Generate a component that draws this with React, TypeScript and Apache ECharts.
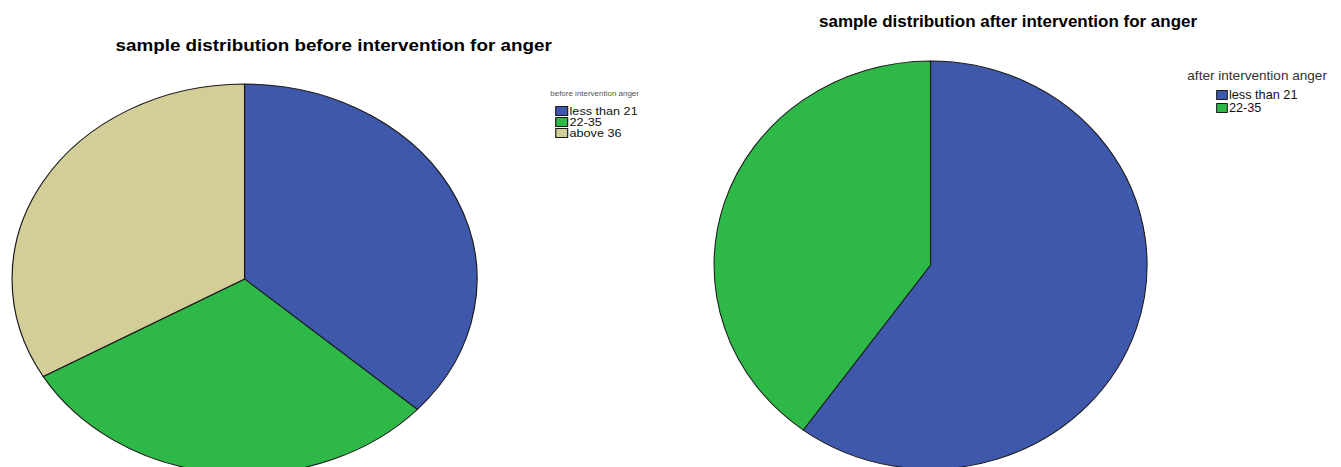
import React, { useEffect, useRef } from 'react';
import * as echarts from 'echarts';

// Age bands and counts of the sample, before and after the intervention
const beforeCategories = ['less than 21', '22-35', 'above 36'];
const beforeCounts = [11, 9, 10];
const afterCategories = ['less than 21', '22-35'];
const afterCounts = [18, 12];
const sliceColors = ['#3E58AC', '#2EB848', '#D3CE97'];

const beforeTitle = 'sample distribution before intervention for anger';
const afterTitle = 'sample distribution after intervention for anger';
const beforeLegendTitle = 'before intervention anger';
const afterLegendTitle = 'after intervention anger';

const FONT = "'Liberation Sans', Arial, Helvetica, sans-serif";

type Layout = {
  cx: number;
  cy: number;
  r: number;
  titleX: number;
  titleY: number;
  titleSize: number;
  legendTitleX: number;
  legendTitleY: number;
  legendTitleSize: number;
  legendTitleColor: string;
  legendLeft: number;
  legendTop: number;
  legendFont: number;
  legendLine: number;
  legendGap: number;
  legendTextShift: number;
};

function buildOption(title: string, legendTitle: string, categories: string[], counts: number[], l: Layout) {
  return {
    animation: false,
    color: sliceColors,
    graphic: [
      {
        type: 'text',
        x: l.titleX,
        y: l.titleY,
        silent: true,
        style: {
          text: title,
          fontFamily: FONT,
          fontSize: l.titleSize,
          fontWeight: 'bold',
          fill: '#000',
          align: 'center',
          verticalAlign: 'middle',
          textAlign: 'center',
          textVerticalAlign: 'middle',
        },
      },
      {
        type: 'text',
        x: l.legendTitleX,
        y: l.legendTitleY,
        silent: true,
        style: {
          text: legendTitle,
          fontFamily: FONT,
          fontSize: l.legendTitleSize,
          fill: l.legendTitleColor,
          align: 'center',
          verticalAlign: 'middle',
          textAlign: 'center',
          textVerticalAlign: 'middle',
        },
      },
    ],
    legend: {
      orient: 'vertical',
      left: l.legendLeft,
      top: l.legendTop,
      padding: 0,
      itemGap: l.legendGap,
      itemWidth: 10,
      itemHeight: 9,
      icon: 'rect',
      selectedMode: false,
      data: categories,
      itemStyle: { borderColor: '#1a1a1a', borderWidth: 1 },
      textStyle: {
        fontFamily: FONT,
        fontSize: l.legendFont,
        lineHeight: l.legendLine,
        color: '#111',
        // pull the label in close to its swatch
        padding: [0, 0, 0, l.legendTextShift],
      },
    },
    series: [
      {
        type: 'pie',
        center: [l.cx, l.cy],
        radius: l.r,
        startAngle: 90,
        clockwise: true,
        silent: true,
        label: { show: false },
        labelLine: { show: false },
        emphasis: { disabled: true },
        itemStyle: { borderColor: '#1a1a1a', borderWidth: 1 },
        data: categories.map((name, i) => ({ name, value: counts[i] })),
      },
    ],
  };
}

type PanelProps = {
  option: any;
  left: number;
  width: number;
  height: number;
  scaleX: number;
};

function Panel({ option, left, width, height, scaleX }: PanelProps) {
  const ref = useRef<HTMLDivElement>(null);
  useEffect(() => {
    const chart = echarts.init(ref.current as HTMLDivElement, null, { renderer: 'svg', width, height });
    chart.setOption(option);
    return () => chart.dispose();
  }, [option, width, height]);
  return (
    <div
      ref={ref}
      style={{
        position: 'absolute',
        left,
        top: 0,
        width,
        height,
        transform: `scaleX(${scaleX})`,
        transformOrigin: '0 0',
      }}
    />
  );
}

const beforeOption = buildOption(beforeTitle, beforeLegendTitle, beforeCategories, beforeCounts, {
  cx: 205.1,
  cy: 279,
  r: 195,
  titleX: 279.8,
  titleY: 46,
  titleSize: 15.8,
  legendTitleX: 498.7,
  legendTitleY: 94,
  legendTitleSize: 6.7,
  legendTitleColor: '#555',
  legendLeft: 465.6,
  legendTop: 105.5,
  legendFont: 10.6,
  legendLine: 10.5,
  legendGap: 0,
  legendTextShift: -3.4,
});

const afterOption = buildOption(afterTitle, afterLegendTitle, afterCategories, afterCounts, {
  cx: 236.1,
  cy: 265,
  r: 204,
  titleX: 309.1,
  titleY: 21,
  titleSize: 16,
  legendTitleX: 543.8,
  legendTitleY: 76,
  legendTitleSize: 12.8,
  legendTitleColor: '#333',
  legendLeft: 505.2,
  legendTop: 89,
  legendFont: 12,
  legendLine: 12,
  legendGap: 1,
  legendTextShift: -3.5,
});

export default function App() {
  useEffect(() => {
    document.body.style.margin = '0';
  }, []);
  return (
    <div
      style={{
        position: 'absolute',
        left: 0,
        top: 0,
        width: 1341,
        height: 467,
        overflow: 'hidden',
        background: '#fff',
      }}
    >
      <Panel option={beforeOption} left={0} width={570} height={467} scaleX={232.5 / 195} />
      <Panel option={afterOption} left={680} width={623} height={467} scaleX={216.5 / 204} />
    </div>
  );
}
